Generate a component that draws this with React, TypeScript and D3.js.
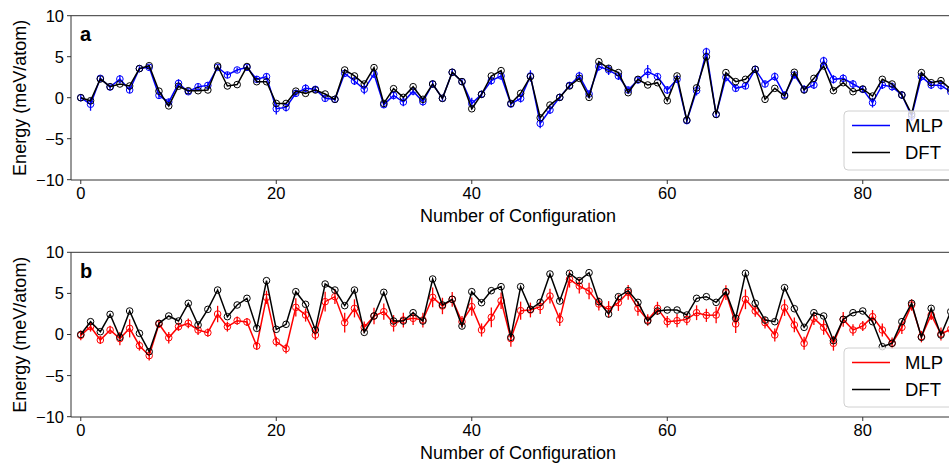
import React from "react";
import * as d3 from "d3";

// ---------- data ----------
const dftA = [
  0, -0.37, 2.28, 1.34, 1.67, 1.43, 3.55, 3.9, 0.8, -1.0,
  1.4, 0.85, 0.85, 0.94, 3.87, 1.43, 1.6, 3.8, 1.95, 1.95,
  -0.7, -0.7, 0.8, 0.53, 0.94, 0.45, -0.2, 3.38, 2.65, 1.67,
  3.67, -0.7, 1.1, 0.04, 1.34, -0.2, 1.67, -0.08, 3.1, 1.96,
  -1.35, 0.41, 2.65, 3.3, -0.7, 0.53, 2.57, -2.45, -0.9, 0.04,
  1.43, 2.36, 0.04, 4.4, 3.59, 3.06, 0.61, 2.24, 1.55, 1.83,
  -0.37, 2.65, -2.73, 1.2, 5.0, -2.04, 3.06, 1.96, 2.24, 3.46,
  -0.2, 1.14, 0.2, 3.1, 0.94, 2.36, 3.87, 0.86, 1.83, 0.73,
  1.06, 0.2, 2.24, 1.67, 0.33, -2.0, 3.06, 1.83, 2.08, 1.02,
  0.5,
];
const mlpA = [
  0.0, -0.8, 2.36, 1.3, 2.28, 0.94, 3.55, 3.7, 0.28, -0.53,
  1.75, 0.73, 1.34, 1.5, 3.7, 2.77, 3.38, 3.7, 2.24, 2.57,
  -1.35, -1.18, 0.53, 1.14, 1.02, -0.08, -0.2, 2.97, 2.04, 1.02,
  2.9, -0.86, 0.28, -0.53, 0.8, -0.49, 1.67, -0.08, 3.1, 1.96,
  -0.7, 0.41, 2.08, 2.65, -0.77, -0.08, 2.65, -3.14, -1.5, 0.04,
  1.5, 2.65, 0.45, 3.8, 3.38, 2.65, 0.94, 2.16, 3.18, 2.57,
  0.94, 2.24, -2.8, 0.86, 5.6, -2.04, 2.49, 1.14, 1.43, 3.46,
  1.67, 2.57, 0.33, 2.77, 1.02, 1.55, 4.5, 2.24, 2.36, 1.67,
  1.02, -0.61, 1.55, 1.34, 0.33, -2.24, 2.57, 1.55, 1.5, 0.73,
  0.4,
];
const errA = [
  0.4, 0.8, 0.3, 0.3, 0.5, 0.4, 0.3, 0.3, 0.4, 0.4,
  0.5, 0.3, 0.4, 0.4, 0.3, 0.4, 0.3, 0.3, 0.4, 0.4,
  0.7, 0.5, 0.4, 0.5, 0.4, 0.4, 0.3, 0.4, 0.5, 0.6,
  0.5, 0.4, 0.5, 0.5, 0.5, 0.5, 0.4, 0.3, 0.4, 0.4,
  0.7, 0.4, 0.5, 0.4, 0.4, 0.5, 0.7, 0.6, 0.5, 0.4,
  0.4, 0.5, 0.4, 0.5, 0.6, 0.5, 0.4, 0.4, 0.8, 0.4,
  0.5, 0.4, 0.4, 0.6, 0.5, 0.4, 0.5, 0.4, 0.4, 0.4,
  0.4, 0.5, 0.4, 0.4, 0.5, 0.5, 0.5, 0.5, 0.5, 0.5,
  0.4, 0.6, 0.5, 0.5, 0.5, 0.6, 0.5, 0.5, 0.5, 0.5,
  0.5,
];
const dftB = [
  0, 1.56, 0.34, 2.45, -0.34, 2.86, 0.14, -2.09, 1.36, 2.25,
  1.64, 3.79, 1.16, 3.06, 5.41, 2.17, 3.59, 4.4, 0.75, 6.55,
  0.63, 1.24, 5.21, 3.67, 0.55, 6.14, 5.41, 3.51, 5.41, 0.26,
  2.25, 5.13, 1.64, 1.64, 2.65, 1.64, 6.75, 3.59, 4.28, 1.03,
  5.21, 3.87, 5.33, 5.82, -0.34, 5.82, 3.06, 3.91, 7.36, 4.07,
  7.44, 6.55, 7.52, 3.99, 2.49, 4.6, 5.33, 3.91, 1.64, 2.86,
  2.98, 2.98, 2.37, 4.4, 4.6, 3.91, 5.21, 1.97, 7.44, 3.79,
  1.76, 1.56, 5.7, 3.14, 0.87, 2.65, 2.25, -0.75, 1.84, 2.65,
  2.86, 1.56, -1.48, -1.07, 1.56, 3.79, -0.34, 3.18, -0.06, 2.78,
  2.0,
];
const mlpB = [
  -0.1, 0.95, -0.67, 0.55, -0.5, 0.75, -1.36, -2.57, 1.28, -0.39,
  0.95, 1.36, 0.55, 0.22, 2.49, 0.95, 1.68, 1.52, -1.4, 4.52,
  -0.87, -1.72, 3.3, 2.37, -0.06, 3.99, 4.6, 1.44, 3.18, 0.87,
  2.25, 2.78, 1.36, 1.76, 1.97, 1.76, 4.52, 3.47, 4.28, 1.56,
  3.39, 0.55, 2.09, 4.1, -0.5, 2.9, 2.98, 3.39, 4.68, 1.84,
  6.71, 5.9, 5.29, 3.71, 3.06, 3.87, 5.13, 3.18, 1.76, 3.18,
  1.56, 1.68, 1.84, 2.65, 2.33, 2.37, 5.09, 1.28, 4.28, 2.86,
  1.44, -0.06, 3.26, 1.16, -1.07, 1.97, 0.87, -1.07, 1.84, 0.55,
  1.03, 2.17, 0.55, -1.07, 0.87, 3.59, -0.26, 2.37, 0.06, 0.63,
  1.0,
];
const errB = [
  0.6, 0.6, 0.5, 0.5, 0.8, 1.1, 0.6, 0.6, 0.5, 0.7,
  0.5, 0.6, 0.6, 0.5, 1.0, 0.6, 0.5, 0.5, 0.5, 0.8,
  0.6, 0.6, 1.1, 0.8, 0.6, 1.2, 0.9, 1.2, 1.1, 0.7,
  1.0, 1.0, 1.0, 0.9, 0.8, 0.9, 1.2, 1.0, 0.9, 0.7,
  1.1, 0.8, 1.2, 1.0, 1.0, 1.1, 0.9, 0.9, 0.9, 0.8,
  1.0, 0.9, 1.0, 0.8, 1.0, 1.0, 0.9, 0.9, 0.7, 0.8,
  0.7, 0.8, 0.7, 0.9, 0.8, 1.0, 0.9, 1.1, 1.2, 0.7,
  0.7, 0.8, 1.0, 0.9, 0.8, 0.8, 0.9, 0.9, 0.9, 0.7,
  0.6, 0.8, 0.8, 0.7, 0.8, 0.7, 0.7, 0.6, 0.8, 0.8,
  0.6,
];
const xTicks = [0, 20, 40, 60, 80];
const yTicks = [-10, -5, 0, 5, 10];
const seriesLabels = ["MLP", "DFT"];

// ---------- layout ----------
const W = 949;
const H = 466;
const LEFT = 71;
const RIGHT = 965.4;
const FONT = "'Liberation Sans', Arial, Helvetica, sans-serif";

const x = d3.scaleLinear().domain([-1, 90.5]).range([LEFT, RIGHT]);

interface PanelProps {
  id: string;
  top: number;
  bottom: number;
  letter: string;
  mlp: number[];
  dft: number[];
  err: number[];
  color: string;
}

function Panel({ id, top, bottom, letter, mlp, dft, err, color }: PanelProps) {
  const y = d3.scaleLinear().domain([-10, 10]).range([bottom - 0.3, top]);
  const line = d3
    .line<number>()
    .x((_, i) => x(i))
    .y((d) => y(d));
  const clipId = "clip-" + id;
  const legTop = bottom - 69;
  return (
    <g>
      <defs>
        <clipPath id={clipId}>
          <rect x={LEFT} y={top} width={RIGHT - LEFT} height={bottom - top} />
        </clipPath>
      </defs>
      <g clipPath={`url(#${clipId})`}>
        {mlp.map((v, i) => (
          <line
            key={"e" + i}
            x1={x(i)}
            x2={x(i)}
            y1={y(v - err[i])}
            y2={y(v + err[i])}
            stroke={color}
            strokeWidth={1.3}
          />
        ))}
        <path d={line(mlp) || ""} fill="none" stroke={color} strokeWidth={1.5} />
        {mlp.map((v, i) => (
          <circle key={"m" + i} cx={x(i)} cy={y(v)} r={3.3} fill="none" stroke={color} strokeWidth={1} />
        ))}
        <path d={line(dft) || ""} fill="none" stroke="#000" strokeWidth={1.5} />
        {dft.map((v, i) => (
          <circle key={"d" + i} cx={x(i)} cy={y(v)} r={3.3} fill="none" stroke="#000" strokeWidth={1} />
        ))}
      </g>
      <line x1={LEFT} x2={W + 5} y1={top} y2={top} stroke="#333" strokeWidth={1} />
      <line x1={LEFT} x2={W + 5} y1={bottom} y2={bottom} stroke="#333" strokeWidth={1} />
      <line x1={LEFT} x2={LEFT} y1={top} y2={bottom} stroke="#333" strokeWidth={1} />
      {yTicks.map((t) => (
        <g key={"y" + t}>
          <line x1={LEFT - 4} x2={LEFT} y1={y(t)} y2={y(t)} stroke="#333" strokeWidth={1} />
          <text
            x={LEFT - 7}
            y={y(t)}
            dy="0.36em"
            textAnchor="end"
            fontFamily={FONT}
            fontSize={16.5}
            fill="#000"
          >
            {t < 0 ? "\u2212" + Math.abs(t) : String(t)}
          </text>
        </g>
      ))}
      {xTicks.map((t) => (
        <g key={"x" + t}>
          <line x1={x(t)} x2={x(t)} y1={bottom} y2={bottom + 4} stroke="#333" strokeWidth={1} />
          <text x={x(t)} y={bottom + 19} textAnchor="middle" fontFamily={FONT} fontSize={16.5} fill="#000">
            {t}
          </text>
        </g>
      ))}
      <text x={518} y={bottom + 42} textAnchor="middle" fontFamily={FONT} fontSize={18} fill="#000">
        Number of Configuration
      </text>
      <text
        transform={`translate(25.5,${(top + bottom) / 2}) rotate(-90)`}
        textAnchor="middle"
        fontFamily={FONT}
        fontSize={18}
        fill="#000"
      >
        Energy (meV/atom)
      </text>
      <text x={80} y={top + 25.5} fontFamily={FONT} fontSize={20} fontWeight="bold" fill="#000">
        {letter}
      </text>
      <rect
        x={844}
        y={legTop}
        width={130}
        height={59}
        rx={4}
        fill="#fff"
        fillOpacity={0.8}
        stroke="#d0d0d0"
        strokeWidth={1}
      />
      {seriesLabels.map((lab, k) => {
        const ly = legTop + 14.5 + k * 27;
        return (
          <g key={lab}>
            <line x1={852} x2={890} y1={ly} y2={ly} stroke={k === 0 ? color : "#000"} strokeWidth={1.5} />
            <text x={905} y={ly} dy="0.36em" fontFamily={FONT} fontSize={18.5} fill="#000">
              {lab}
            </text>
          </g>
        );
      })}
    </g>
  );
}

export default function App() {
  return (
    <div style={{ position: "fixed", left: 0, top: 0, width: W, height: H, background: "#fff" }}>
      <svg width={W} height={H} viewBox={`0 0 ${W} ${H}`} style={{ display: "block" }}>
        <rect x={0} y={0} width={W} height={H} fill="#fff" />
        <Panel id="a" top={15.7} bottom={180} letter="a" mlp={mlpA} dft={dftA} err={errA} color="#0000ff" />
        <Panel id="b" top={252.3} bottom={417} letter="b" mlp={mlpB} dft={dftB} err={errB} color="#ff0000" />
      </svg>
    </div>
  );
}
